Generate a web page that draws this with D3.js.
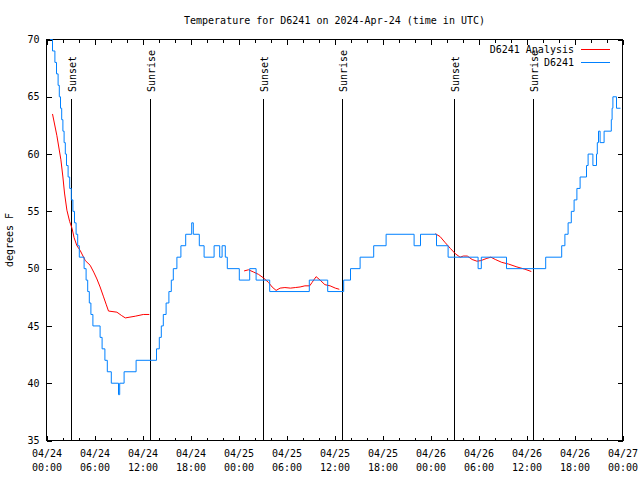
<!DOCTYPE html>
<html><head><meta charset="utf-8">
<script src="https://cdn.jsdelivr.net/npm/d3@7"></script>
<style>
body{margin:0;background:#fff;}
svg{display:block;background:#fff;}
text{font-family:"DejaVu Sans Mono","Liberation Mono",monospace;font-size:10px;fill:#000;}
</style></head><body>
<svg id="chart" width="640" height="480"></svg>
<script>
// ---- data ----
const titleText = "Temperature for D6241 on 2024-Apr-24 (time in UTC)";
const yLabelText = "degrees F";
const startUTC = Date.UTC(2024, 3, 24, 0, 0);
const endUTC = Date.UTC(2024, 3, 27, 0, 0);
const xTickDates = ["04/24","04/24","04/24","04/24","04/25","04/25","04/25","04/25","04/26","04/26","04/26","04/26","04/27"];
const xTickTimes = ["00:00","06:00","12:00","18:00","00:00","06:00","12:00","18:00","00:00","06:00","12:00","18:00","00:00"];
const yTicks = [35, 40, 45, 50, 55, 60, 65, 70];
const sunEventHours = [3.11, 12.95, 27.13, 36.98, 50.95, 60.92];
const sunEventLabels = ["Sunset", "Sunrise", "Sunset", "Sunrise", "Sunset", "Sunrise"];
const seriesNames = ["D6241 Analysis", "D6241"];

// observed (hours after 2024-04-24 00:00 UTC, degF, each value holds until the next)
const observedHours = [0.45,0.75,1.05,1.25,1.45,1.6,1.75,1.9,2.05,2.2,
  2.35,2.5,2.7,2.9,3.1,3.3,3.5,3.7,3.9,4.1,
  4.7,4.95,5.15,5.35,5.55,5.8,6.7,6.95,7.3,7.6,
  8.1,9.0,9.15,9.7,11.2,13.75,14.1,14.35,14.6,14.95,
  15.3,15.6,15.85,16.3,16.8,17.4,18.15,18.35,19.1,19.7,
  20.95,21.65,21.95,22.35,22.6,24.1,25.4,26.2,27.9,32.85,
  35.15,37.15,38.0,39.2,40.9,42.45,45.95,46.75,48.75,50.2,
  53.95,54.35,57.5,62.4,64.4,64.8,65.2,65.6,65.95,66.3,
  66.7,67.5,67.7,68.3,68.75,68.85,69.0,69.2,69.7,70.6,
  70.7,70.8,71.25,71.75];
const observedTemps = [70,69,68,67,66,65,64,63,62,61,
  60,59,58,57,56,55,54,53,52,51,
  50,49,48,47,46,45,44,43,42,41,
  40,39,40,41,42,43,44,45,46,47,
  48,49,50,51,52,53,54,53,52,51,
  52,51,52,51,50,49,50,49,48,49,
  48,49,50,51,52,53,52,53,52,51,
  50,51,50,51,52,53,54,55,56,57,
  58,59,60,59,60,61,62,61,62,63,
  64,65,64,64];

// analysis (null = gap between runs)
const analysisHours = [0.75,1.3,1.8,2.05,2.25,2.55,2.9,3.2,3.45,3.8,4.2,4.85,5.45,5.9,6.3,6.7,7.1,7.45,7.75,8.8,9.4,9.85,11.1,12.1,12.85,
  null,
  24.7,25.25,25.9,26.5,27.1,27.75,28.2,28.7,29.2,29.8,30.5,31.1,31.7,32.3,32.9,33.2,33.7,34.2,34.8,35.45,36.1,36.6,
  null,
  48.6,49.2,49.8,50.5,51.1,51.7,52.1,52.6,53.2,53.8,54.3,55.05,55.55,56.1,56.9,57.75,58.8,59.8,60.6];
const analysisTemps = [63.5,61.6,59.5,58.0,56.6,55.1,54.1,53.5,52.7,52.0,51.6,50.7,50.3,49.7,49.1,48.4,47.6,46.9,46.3,46.2,45.9,45.7,45.85,46.0,46.0,
  null,
  49.8,49.9,49.7,49.5,49.2,48.8,48.4,48.1,48.3,48.35,48.3,48.35,48.4,48.5,48.5,48.8,49.3,49.0,48.6,48.5,48.3,48.2,
  null,
  53.05,52.8,52.3,51.75,51.3,51.0,51.1,51.1,50.8,50.65,50.7,50.9,51.0,50.8,50.55,50.4,50.15,49.95,49.75];

// ---- drawing ----
const L = 46.5, R = 622.5, T = 39.5, B = 440.5;
const svg = d3.select("#chart");
const hr = h => new Date(startUTC + h * 3600e3);

const x = d3.scaleUtc().domain([new Date(startUTC), new Date(endUTC)]).range([L, R]);
const y = d3.scaleLinear().domain([35, 70]).range([B, T]);

const majorTicks = d3.range(0, 73, 6).map(hr);
const minorTicks = d3.range(0, 73, 2).filter(h => h % 6 !== 0).map(hr);

// axes (ticks point inward, mirrored)
const gB = svg.append("g").attr("transform", `translate(0,${B})`)
  .call(d3.axisBottom(x).tickValues(majorTicks).tickSize(-5).tickPadding(0));
gB.selectAll(".tick text").each(function(d, i) {
  const t = d3.select(this).text(null).attr("dy", null).attr("y", null);
  t.append("tspan").attr("x", 0).attr("y", 16).text(xTickDates[i]);
  t.append("tspan").attr("x", 0).attr("y", 30).text(xTickTimes[i]);
});
svg.append("g").attr("transform", `translate(0,${B})`)
  .call(d3.axisBottom(x).tickValues(minorTicks).tickSize(-3).tickFormat(""));
svg.append("g").attr("transform", `translate(0,${T})`)
  .call(d3.axisTop(x).tickValues(majorTicks).tickSize(-5).tickFormat(""));
svg.append("g").attr("transform", `translate(0,${T})`)
  .call(d3.axisTop(x).tickValues(minorTicks).tickSize(-3).tickFormat(""));
svg.append("g").attr("transform", `translate(${L},0)`)
  .call(d3.axisLeft(y).tickValues(yTicks).tickSize(-5).tickPadding(7).tickFormat(d3.format("d")));
svg.append("g").attr("transform", `translate(${R},0)`)
  .call(d3.axisRight(y).tickValues(yTicks).tickSize(-5).tickFormat(""));
svg.selectAll(".domain").remove();
svg.selectAll(".tick line").attr("stroke", "#000").attr("shape-rendering", "crispEdges");
svg.selectAll(".tick text").attr("fill", "#000");

// frame
svg.append("rect").attr("x", L).attr("y", T).attr("width", R - L).attr("height", B - T)
  .attr("fill", "none").attr("stroke", "#000").attr("shape-rendering", "crispEdges");

// sunrise / sunset markers
sunEventHours.forEach((h, i) => {
  const xp = Math.floor(x(hr(h))) + 0.5;
  svg.append("line").attr("x1", xp).attr("x2", xp).attr("y1", 99).attr("y2", B)
    .attr("stroke", "#000").attr("shape-rendering", "crispEdges");
  svg.append("text").attr("transform", `translate(${xp + 4.5},92) rotate(-90)`)
    .attr("text-anchor", "start").text(sunEventLabels[i]);
});

// series
const observed = observedHours.map((h, i) => ({ t: hr(h), v: observedTemps[i] }));
const analysis = analysisHours.map((h, i) => ({ t: h == null ? null : hr(h), v: analysisTemps[i] }));

svg.append("path").datum(analysis)
  .attr("fill", "none").attr("stroke", "#ff0000").attr("stroke-width", 1)
  .attr("d", d3.line().defined(d => d.v != null).x(d => x(d.t)).y(d => y(d.v)));

svg.append("path").datum(observed)
  .attr("fill", "none").attr("stroke", "#0080ff").attr("stroke-width", 1)
  .attr("d", d3.line().curve(d3.curveStepAfter).x(d => x(d.t)).y(d => y(d.v)));

// title & labels
svg.append("text").attr("x", (L + R) / 2).attr("y", 24).attr("text-anchor", "middle").text(titleText);
svg.append("text").attr("transform", "translate(13,240) rotate(-90)").attr("text-anchor", "middle").text(yLabelText);

// legend
const legendColors = ["#ff0000", "#0080ff"];
seriesNames.forEach((name, i) => {
  const yy = 49.5 + i * 13;
  svg.append("text").attr("x", 574).attr("y", yy + 3.6).attr("text-anchor", "end").text(name);
  svg.append("line").attr("x1", 581).attr("x2", 610).attr("y1", yy).attr("y2", yy)
    .attr("stroke", legendColors[i]).attr("stroke-width", 1).attr("shape-rendering", "crispEdges");
});
</script>
</body></html>
